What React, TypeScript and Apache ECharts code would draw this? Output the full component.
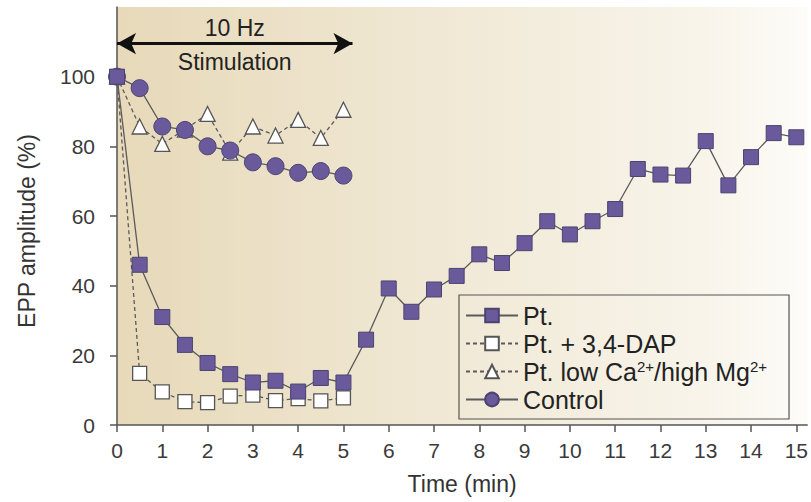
import React, { useEffect, useRef } from "react";
import * as echarts from "echarts";

// ---- Data ----
const timesPt = [0, 0.5, 1, 1.5, 2, 2.5, 3, 3.5, 4, 4.5, 5, 5.5, 6, 6.5, 7, 7.5, 8, 8.5, 9, 9.5, 10, 10.5, 11, 11.5, 12, 12.5, 13, 13.5, 14, 14.5, 15];
const ptValues = [100, 46, 31, 23, 17.8, 14.6, 12.2, 12.7, 9.6, 13.5, 12.2, 24.5, 39.2, 32.5, 38.9, 42.8, 49, 46.5, 52.2, 58.5, 54.7, 58.5, 62, 73.5, 71.9, 71.6, 81.5, 68.8, 76.9, 83.8, 82.6];

const timesStim = [0, 0.5, 1, 1.5, 2, 2.5, 3, 3.5, 4, 4.5, 5];
const dapValues = [100, 14.8, 9.5, 6.7, 6.4, 8.3, 8.6, 7.0, 7.6, 6.9, 7.8];
const lowCaValues = [100, 85.7, 80.7, 84.8, 89.3, 78.2, 85.7, 83.1, 87.6, 82.4, 90.5];
const controlValues = [100, 96.7, 85.7, 84.7, 80.0, 78.8, 75.4, 74.3, 72.4, 72.9, 71.6];

const seriesNames = ["Pt.", "Pt. + 3,4-DAP", "Pt. low Ca2+/high Mg2+", "Control"];

const xTickValues = [0, 1, 2, 3, 4, 5, 6, 7, 8, 9, 10, 11, 12, 13, 14, 15];
const yTickValues = [0, 20, 40, 60, 80, 100];

const stimStart = 0;
const stimEnd = 5.2;
const stimLevel = 109.5;
const stimTop = "10 Hz";
const stimBottom = "Stimulation";

const FONT = "'Liberation Sans', Arial, Helvetica, sans-serif";
const PURPLE = "#6a5a9c";
const LINE = "#5a5a5a";

function pairs(xs: number[], ys: number[]) {
  return xs.map((x, i) => [x, ys[i]]);
}

export default function App() {
  const ref = useRef<HTMLDivElement>(null);

  useEffect(() => {
    if (!ref.current) return;
    const chart = echarts.init(ref.current, undefined, { renderer: "svg" });

    const option: any = {
      animation: false,
      grid: {
        left: 117,
        right: 0,
        top: 7,
        bottom: 77,
        show: true,
        borderWidth: 0,
        backgroundColor: new echarts.graphic.LinearGradient(0, 0, 1, 0, [
          { offset: 0, color: "#e7d9b9" },
          { offset: 0.45, color: "#f0e8d4" },
          { offset: 0.85, color: "#f8f4ea" },
          { offset: 1, color: "#fdfcf8" },
        ]),
      },
      xAxis: {
        type: "value",
        min: 0,
        max: 15.24,
        interval: 1,
        name: "Time (min)",
        nameLocation: "middle",
        nameGap: 47,
        nameTextStyle: { fontFamily: FONT, fontSize: 23, color: "#333" },
        axisLine: { show: true, onZero: false, lineStyle: { color: "#555", width: 1.5 } },
        axisTick: { show: true, length: 7, inside: false, customValues: xTickValues, lineStyle: { color: "#555", width: 1.5 } },
        axisLabel: { customValues: xTickValues, margin: 15, fontFamily: FONT, fontSize: 21, color: "#3a3a3a" },
        splitLine: { show: false },
      },
      yAxis: {
        type: "value",
        min: 0,
        max: 120,
        interval: 20,
        name: "EPP amplitude (%)",
        nameLocation: "middle",
        nameGap: 79,
        nameRotate: 90,
        nameTextStyle: { fontFamily: FONT, fontSize: 23, color: "#333", padding: [0, 30, 0, 0] },
        axisLine: { show: true, lineStyle: { color: "#555", width: 1.5 } },
        axisTick: { show: true, length: 7, customValues: yTickValues, lineStyle: { color: "#555", width: 1.5 } },
        axisLabel: { customValues: yTickValues, margin: 22, fontFamily: FONT, fontSize: 21, color: "#3a3a3a" },
        splitLine: { show: false },
      },
      legend: {
        orient: "vertical",
        left: 459,
        top: 295,
        data: seriesNames,
        itemWidth: 52,
        itemHeight: 17,
        itemGap: 3,
        padding: [8, 22, 7, 6],
        borderColor: "#555",
        borderWidth: 1.2,
        borderRadius: 0,
        backgroundColor: "transparent",
        selectedMode: false,
        formatter: (name: string) => {
          if (name.indexOf("Ca2+") >= 0) {
            return "{t|Pt. low Ca}{s|2+}{t|/high Mg}{s|2+}";
          }
          return "{t|" + name + "}";
        },
        textStyle: {
          fontFamily: FONT,
          fontSize: 25,
          color: "#222",
          lineHeight: 25,
          rich: {
            t: { fontFamily: FONT, fontSize: 25, color: "#222", lineHeight: 25 },
            s: { fontFamily: FONT, fontSize: 15, color: "#222", lineHeight: 25, verticalAlign: "top", padding: [0, 0, 10, 0] },
          },
        },
      },
      series: [
        {
          name: seriesNames[1],
          type: "line",
          data: pairs(timesStim, dapValues),
          symbol: "rect",
          symbolSize: 14,
          itemStyle: { color: "#ffffff", borderColor: "#555", borderWidth: 1.3 },
          lineStyle: { color: LINE, width: 1.3, type: [4, 3] },
          z: 2,
        },
        {
          name: seriesNames[2],
          type: "line",
          data: pairs(timesStim, lowCaValues),
          symbol: "triangle",
          symbolSize: 15,
          itemStyle: { color: "#ffffff", borderColor: "#555", borderWidth: 1.3 },
          lineStyle: { color: LINE, width: 1.3, type: [4, 3] },
          z: 2,
        },
        {
          name: seriesNames[3],
          type: "line",
          data: pairs(timesStim, controlValues),
          symbol: "circle",
          symbolSize: 17,
          itemStyle: { color: PURPLE, borderColor: "#4a4470", borderWidth: 1 },
          lineStyle: { color: LINE, width: 1.3 },
          z: 3,
        },
        {
          name: seriesNames[0],
          type: "line",
          data: pairs(timesPt, ptValues),
          symbol: "rect",
          symbolSize: 15,
          itemStyle: { color: PURPLE, borderColor: "#4a4470", borderWidth: 1 },
          lineStyle: { color: LINE, width: 1.3 },
          z: 4,
          markLine: {
            silent: true,
            animation: false,
            symbol: ["arrow", "arrow"],
            symbolSize: [16, 19],
            lineStyle: { color: "#111", width: 3, type: "solid" },
            data: [
              [
                {
                  coord: [stimStart, stimLevel],
                  label: { show: true, position: "insideMiddleTop", formatter: stimTop, distance: 4, fontFamily: FONT, fontSize: 23, color: "#222" },
                },
                { coord: [stimEnd, stimLevel] },
              ],
              [
                {
                  coord: [stimStart, stimLevel],
                  symbol: "none",
                  lineStyle: { color: "rgba(0,0,0,0)", width: 0 },
                  label: { show: true, position: "insideMiddleBottom", formatter: stimBottom, distance: 7, fontFamily: FONT, fontSize: 23, color: "#222" },
                },
                { coord: [stimEnd, stimLevel], symbol: "none" },
              ],
            ],
          },
        },
      ],
    };

    chart.setOption(option);
    return () => chart.dispose();
  }, []);

  return (
    <div
      ref={ref}
      style={{ position: "fixed", left: 0, top: 0, width: 811, height: 502, background: "#ffffff" }}
    />
  );
}
